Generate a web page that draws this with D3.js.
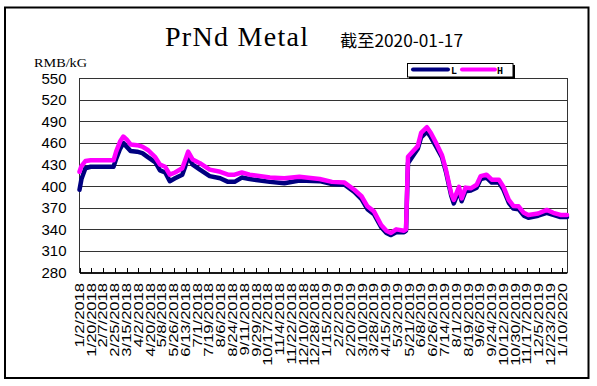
<!DOCTYPE html>
<html><head><meta charset="utf-8">
<script src="https://cdn.jsdelivr.net/npm/d3@7"></script>
<style>body{margin:0;background:#fff}svg{display:block}</style>
</head><body><svg id="c" width="597" height="386"></svg>
<script>
const dates = ["2018-01-02","2018-01-05","2018-01-11","2018-01-19","2018-02-03","2018-02-23","2018-02-27","2018-03-05","2018-03-10","2018-03-15","2018-03-21","2018-03-31","2018-04-08","2018-04-17","2018-04-28","2018-05-05","2018-05-13","2018-05-20","2018-05-28","2018-06-08","2018-06-12","2018-06-17","2018-06-24","2018-07-05","2018-07-20","2018-08-05","2018-08-17","2018-08-27","2018-09-07","2018-09-19","2018-10-20","2018-11-11","2018-12-04","2019-01-04","2019-01-23","2019-02-11","2019-02-26","2019-03-09","2019-03-18","2019-03-28","2019-04-08","2019-04-16","2019-04-23","2019-05-01","2019-05-13","2019-05-16","2019-05-19","2019-05-28","2019-06-03","2019-06-08","2019-06-17","2019-06-23","2019-07-01","2019-07-10","2019-07-16","2019-07-24","2019-07-28","2019-08-05","2019-08-09","2019-08-15","2019-08-23","2019-09-01","2019-09-07","2019-09-16","2019-09-24","2019-10-05","2019-10-12","2019-10-20","2019-10-27","2019-11-04","2019-11-12","2019-11-19","2019-12-04","2019-12-17","2019-12-27","2020-01-07","2020-01-17"];
const lowValues = [395,410,425,427,427,427,438,452,460,455,449,448,446,440,433,422,419,407,411,416,426,441,430,423,414,411,406,406,412,410,406,404,408,407,403,402,392,382,368,361,343,335,332,336,336,338,432,444,452,468,476,468,455,440,420,387,376,394,379,393,394,398,410,412,405,405,395,377,369,368,359,356,359,363,360,357,357];
const highValues = [420,428,435,436,436,436,448,462,469,465,458,457,455,450,440,430,427,416,419,425,435,448,437,432,423,420,416,416,419,416,412,411,413,410,406,405,395,386,372,365,346,338,335,340,338,340,441,450,456,474,482,474,460,443,423,390,381,399,383,398,397,402,414,416,409,409,399,381,372.5,372,363,360,362,367,363,360,360];
const yTickValues = [280,310,340,370,400,430,460,490,520,550];
const xTickLabels = ["1/2/2018","1/20/2018","2/7/2018","2/25/2018","3/15/2018","4/2/2018","4/20/2018","5/8/2018","5/26/2018","6/13/2018","7/1/2018","7/19/2018","8/6/2018","8/24/2018","9/11/2018","9/29/2018","10/17/2018","11/4/2018","11/22/2018","12/10/2018","12/28/2018","1/15/2019","2/2/2019","2/20/2019","3/10/2019","3/28/2019","4/15/2019","5/3/2019","5/21/2019","6/8/2019","6/26/2019","7/14/2019","8/1/2019","8/19/2019","9/6/2019","9/24/2019","10/12/2019","10/30/2019","11/17/2019","12/5/2019","12/23/2019","1/10/2020"];
const seriesNames = ["L","H"];

const svg = d3.select("#c");
const parseISO = d3.timeParse("%Y-%m-%d");
const parseMDY = d3.timeParse("%m/%d/%Y");
const X0 = 79.5, X1 = 567, Y0 = 78.3, Y1 = 272.5;
const x = d3.scaleTime().domain([parseISO("2018-01-02"), parseISO("2020-01-17")]).range([X0, X1]);
const y = d3.scaleLinear().domain([280, 550]).range([Y1, Y0]);

// outer frame
svg.append("rect").attr("x",5).attr("y",7.5).attr("width",583.5).attr("height",370.5)
  .attr("fill","#fff").attr("stroke","#000").attr("stroke-width",2);

// title
svg.append("text").attr("x",165).attr("y",46).attr("font-family","Liberation Serif")
  .attr("font-size",28).attr("textLength",143).attr("lengthAdjust","spacing").attr("fill","#000").text("PrNd Metal");
svg.append("text").attr("x",340).attr("y",47).attr("font-family","Noto Sans CJK SC")
  .attr("font-size",17).attr("textLength",123).attr("lengthAdjust","spacingAndGlyphs").attr("fill","#000").text("截至2020-01-17");

// gridlines
const gy = svg.append("g").attr("transform",`translate(${X0},0)`)
  .call(d3.axisLeft(y).tickValues(yTickValues).tickSize(-(X1-X0)).tickFormat(""));
gy.select(".domain").remove();
gy.selectAll("line").attr("stroke","#333").attr("stroke-width",1).attr("shape-rendering","crispEdges");

// y labels
svg.append("g").selectAll("text").data(yTickValues).join("text")
  .attr("x",66.5).attr("y",d=>y(d)).attr("dy","0.36em").attr("text-anchor","end")
  .attr("font-family","Liberation Sans").attr("font-size",15).attr("fill","#000").text(d=>d);

svg.append("text").attr("x",34).attr("y",66.5).attr("font-family","Liberation Serif")
  .attr("font-size",13).attr("textLength",53).attr("lengthAdjust","spacingAndGlyphs").attr("fill","#000").text("RMB/kG");

// plot border
svg.append("rect").attr("x",X0).attr("y",Y0).attr("width",X1-X0).attr("height",Y1-Y0)
  .attr("fill","none").attr("stroke","#333").attr("stroke-width",1).attr("shape-rendering","crispEdges");

// x axis ticks (inside)
const tickDates = xTickLabels.map(s=>parseMDY(s));
const gx = svg.append("g").attr("transform",`translate(0,${Y1})`)
  .call(d3.axisBottom(x).tickValues(tickDates).tickSizeInner(-5).tickSizeOuter(0).tickFormat(""));
gx.select(".domain").attr("stroke","#000");
gx.selectAll("line").attr("stroke","#000").attr("shape-rendering","crispEdges");

// x labels rotated
svg.append("g").selectAll("text").data(xTickLabels).join("text")
  .attr("transform",(d,i)=>`translate(${x(tickDates[i])},283) rotate(-90) scale(1.38,1)`)
  .attr("dy","0.36em").attr("text-anchor","end")
  .attr("font-family","Liberation Sans").attr("font-size",12).attr("fill","#000").text(d=>d);

// lines
const pts = dates.map((d,i)=>({date:parseISO(d), L:lowValues[i], H:highValues[i]}));
const colors = {L:"#000080", H:"#ff00ff"};
seriesNames.forEach(k=>{
  svg.append("path").datum(pts)
    .attr("d", d3.line().x(p=>x(p.date)).y(p=>y(p[k])))
    .attr("fill","none").attr("stroke",colors[k]).attr("stroke-width",4.5)
    .attr("stroke-linejoin","round").attr("stroke-linecap","round");
});

// legend
const lg = svg.append("g");
lg.append("rect").attr("x",409).attr("y",65).attr("width",106).attr("height",14).attr("fill","#000");
lg.append("rect").attr("x",407.5).attr("y",63.5).attr("width",105.5).attr("height",13.5).attr("fill","#fff").attr("stroke","#000").attr("stroke-width",1);
const legX = [[413,448,451],[462,495,497]];
seriesNames.forEach((k,i)=>{
  lg.append("line").attr("x1",legX[i][0]).attr("x2",legX[i][1]).attr("y1",69.5).attr("y2",69.5)
    .attr("stroke",colors[k]).attr("stroke-width",4).attr("stroke-linecap","round");
  lg.append("text").attr("x",legX[i][2]).attr("y",73.5).attr("font-family","Liberation Mono")
    .attr("font-weight","bold").attr("font-size",10).attr("fill","#000").text(k);
});
</script></body></html>
